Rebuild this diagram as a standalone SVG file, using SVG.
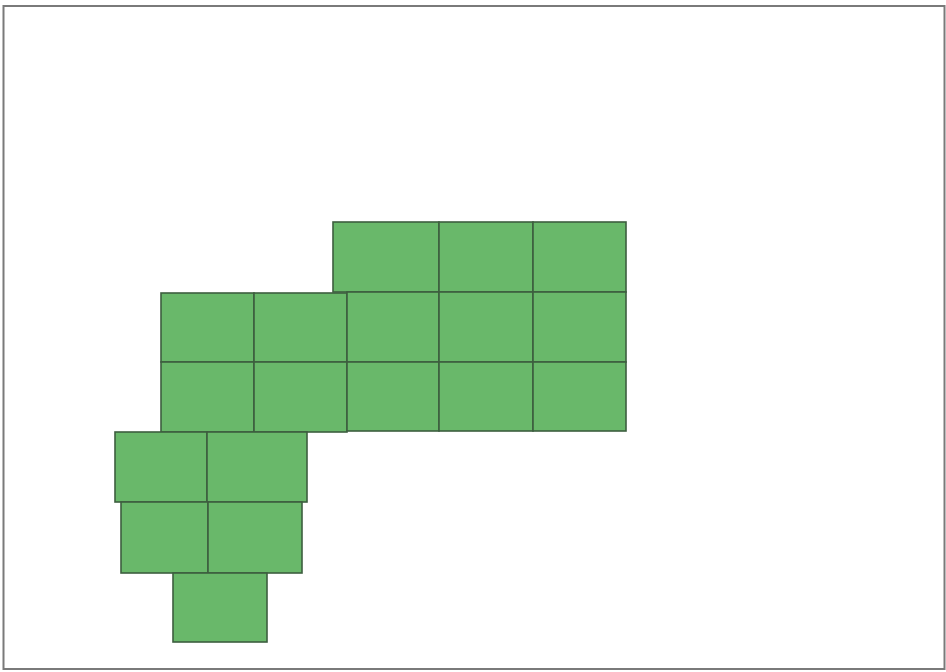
<svg xmlns="http://www.w3.org/2000/svg" width="946" height="672" viewBox="0 0 946 672">
<style>
.c{fill:#69b86a;stroke:#3d5e3f;stroke-width:1.6}
.frame{fill:#fff;stroke:#7a7a7a;stroke-width:2}
</style>
<rect class="frame" x="3.5" y="6" width="941" height="663"/>
<g id="top">
<rect class="c" x="333" y="222" width="106" height="70"/>
<rect class="c" x="439" y="222" width="94" height="70"/>
<rect class="c" x="533" y="222" width="93" height="70"/>
</g>
<g id="middle">
<rect class="c" x="161" y="293" width="93" height="69"/>
<rect class="c" x="254" y="293" width="93" height="69"/>
<rect class="c" x="347" y="292" width="92" height="70"/>
<rect class="c" x="439" y="292" width="94" height="70"/>
<rect class="c" x="533" y="292" width="93" height="70"/>
<rect class="c" x="161" y="362" width="93" height="70"/>
<rect class="c" x="254" y="362" width="93" height="70"/>
<rect class="c" x="347" y="362" width="92" height="69"/>
<rect class="c" x="439" y="362" width="94" height="69"/>
<rect class="c" x="533" y="362" width="93" height="69"/>
</g>
<g id="lower1">
<rect class="c" x="115" y="432" width="92" height="70"/>
<rect class="c" x="207" y="432" width="100" height="70"/>
</g>
<g id="lower2">
<rect class="c" x="121" y="502" width="87" height="71"/>
<rect class="c" x="208" y="502" width="94" height="71"/>
</g>
<g id="lower3">
<rect class="c" x="173" y="573" width="94" height="69"/>
</g>
<g id="connectors"/>
</svg>
